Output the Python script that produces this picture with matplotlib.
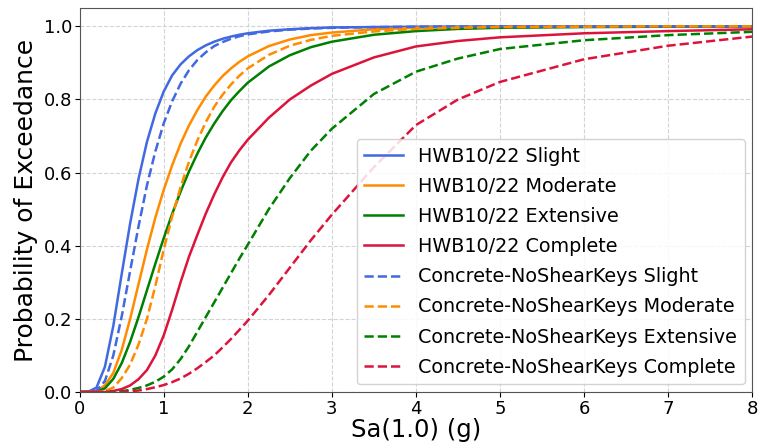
import matplotlib
matplotlib.use("Agg")
import matplotlib.pyplot as plt

sa = [0.0, 0.1, 0.2, 0.3, 0.4, 0.5, 0.6, 0.7, 0.8, 0.9, 1.0,
      1.1, 1.2, 1.3, 1.4, 1.5, 1.6, 1.7, 1.8, 1.9, 2.0,
      2.25, 2.5, 2.75, 3.0, 3.5, 4.0, 4.5, 5.0, 6.0, 7.0, 8.0]

# HWB10/22 fragility curves
hwb_slight = [0, 0.0005, 0.012, 0.069, 0.181, 0.323, 0.461, 0.583, 0.684, 0.762, 0.822,
              0.866, 0.896, 0.918, 0.935, 0.948, 0.958, 0.966, 0.972, 0.977, 0.981,
              0.988, 0.992, 0.995, 0.997, 0.998, 0.999, 0.9995, 1.0, 1.0, 1.0, 1.0]
hwb_moderate = [0, 0, 0.003, 0.018, 0.052, 0.115, 0.20, 0.295, 0.39, 0.477, 0.553,
                0.62, 0.679, 0.729, 0.771, 0.808, 0.838, 0.864, 0.885, 0.903, 0.918,
                0.946, 0.964, 0.976, 0.983, 0.992, 0.996, 0.998, 0.999, 1.0, 1.0, 1.0]
hwb_extensive = [0, 0, 0.001, 0.010, 0.036, 0.079, 0.137, 0.205, 0.278, 0.351, 0.421,
                 0.487, 0.548, 0.603, 0.652, 0.696, 0.734, 0.768, 0.798, 0.823, 0.846,
                 0.890, 0.921, 0.943, 0.958, 0.977, 0.987, 0.993, 0.996, 0.998, 0.999, 1.0]
hwb_complete = [0, 0, 0, 0, 0.003, 0.008, 0.018, 0.035, 0.06, 0.10, 0.155,
                0.225, 0.30, 0.37, 0.43, 0.488, 0.54, 0.587, 0.628, 0.661, 0.69,
                0.75, 0.80, 0.838, 0.87, 0.915, 0.945, 0.96, 0.97, 0.981, 0.987, 0.992]

# Concrete-NoShearKeys fragility curves
nsk_slight = [0, 0, 0.003, 0.030, 0.100, 0.207, 0.331, 0.453, 0.565, 0.658, 0.735,
              0.795, 0.843, 0.880, 0.908, 0.929, 0.946, 0.957, 0.966, 0.973, 0.978,
              0.986, 0.991, 0.994, 0.996, 0.998, 0.999, 0.9995, 1.0, 1.0, 1.0, 1.0]
nsk_moderate = [0, 0, 0, 0.003, 0.012, 0.038, 0.075, 0.13, 0.20, 0.29, 0.39,
                0.48, 0.56, 0.63, 0.688, 0.738, 0.78, 0.813, 0.841, 0.865, 0.885,
                0.922, 0.947, 0.963, 0.974, 0.986, 0.993, 0.996, 0.998, 0.999, 1.0, 1.0]
nsk_extensive = [0, 0, 0, 0, 0.001, 0.002, 0.006, 0.011, 0.018, 0.028, 0.042,
                 0.062, 0.09, 0.125, 0.165, 0.205, 0.245, 0.285, 0.325, 0.365, 0.403,
                 0.50, 0.585, 0.66, 0.72, 0.815, 0.876, 0.912, 0.938, 0.962, 0.976, 0.985]
nsk_complete = [0, 0, 0, 0, 0, 0, 0.002, 0.004, 0.008, 0.013, 0.019,
                0.027, 0.037, 0.05, 0.065, 0.082, 0.10, 0.122, 0.145, 0.17, 0.195,
                0.265, 0.34, 0.415, 0.485, 0.615, 0.73, 0.80, 0.848, 0.91, 0.947, 0.972]

states = ["Slight", "Moderate", "Extensive", "Complete"]
colours = ["royalblue", "darkorange", "green", "crimson"]

fig = plt.figure(figsize=(7.59, 4.48), dpi=100)
ax = fig.add_axes([0.105, 0.125, 0.886, 0.857])

for name, col, ys in zip(states, colours,
                         [hwb_slight, hwb_moderate, hwb_extensive, hwb_complete]):
    ax.plot(sa, ys, color=col, linewidth=1.8, label="HWB10/22 " + name)
for name, col, ys in zip(states, colours,
                         [nsk_slight, nsk_moderate, nsk_extensive, nsk_complete]):
    ax.plot(sa, ys, color=col, linewidth=1.8, linestyle="--",
            label="Concrete-NoShearKeys " + name)

ax.set_xlim(0, 8)
ax.set_ylim(0, 1.05)
ax.set_xticks(range(0, 9))
ax.set_yticks([0.0, 0.2, 0.4, 0.6, 0.8, 1.0])
ax.tick_params(labelsize=13, pad=2)
ax.set_xlabel("Sa(1.0) (g)", fontsize=17.5, labelpad=0)
ax.set_ylabel("Probability of Exceedance", fontsize=18, labelpad=4)
ax.grid(True, linestyle="--", color="lightgray", linewidth=0.8)
for s in ax.spines.values():
    s.set_color("#555555")

ax.legend(loc="lower right", fontsize=13.8, framealpha=0.85,
          borderaxespad=0.4, labelspacing=0.58)

fig.savefig("out.png", dpi=100)
